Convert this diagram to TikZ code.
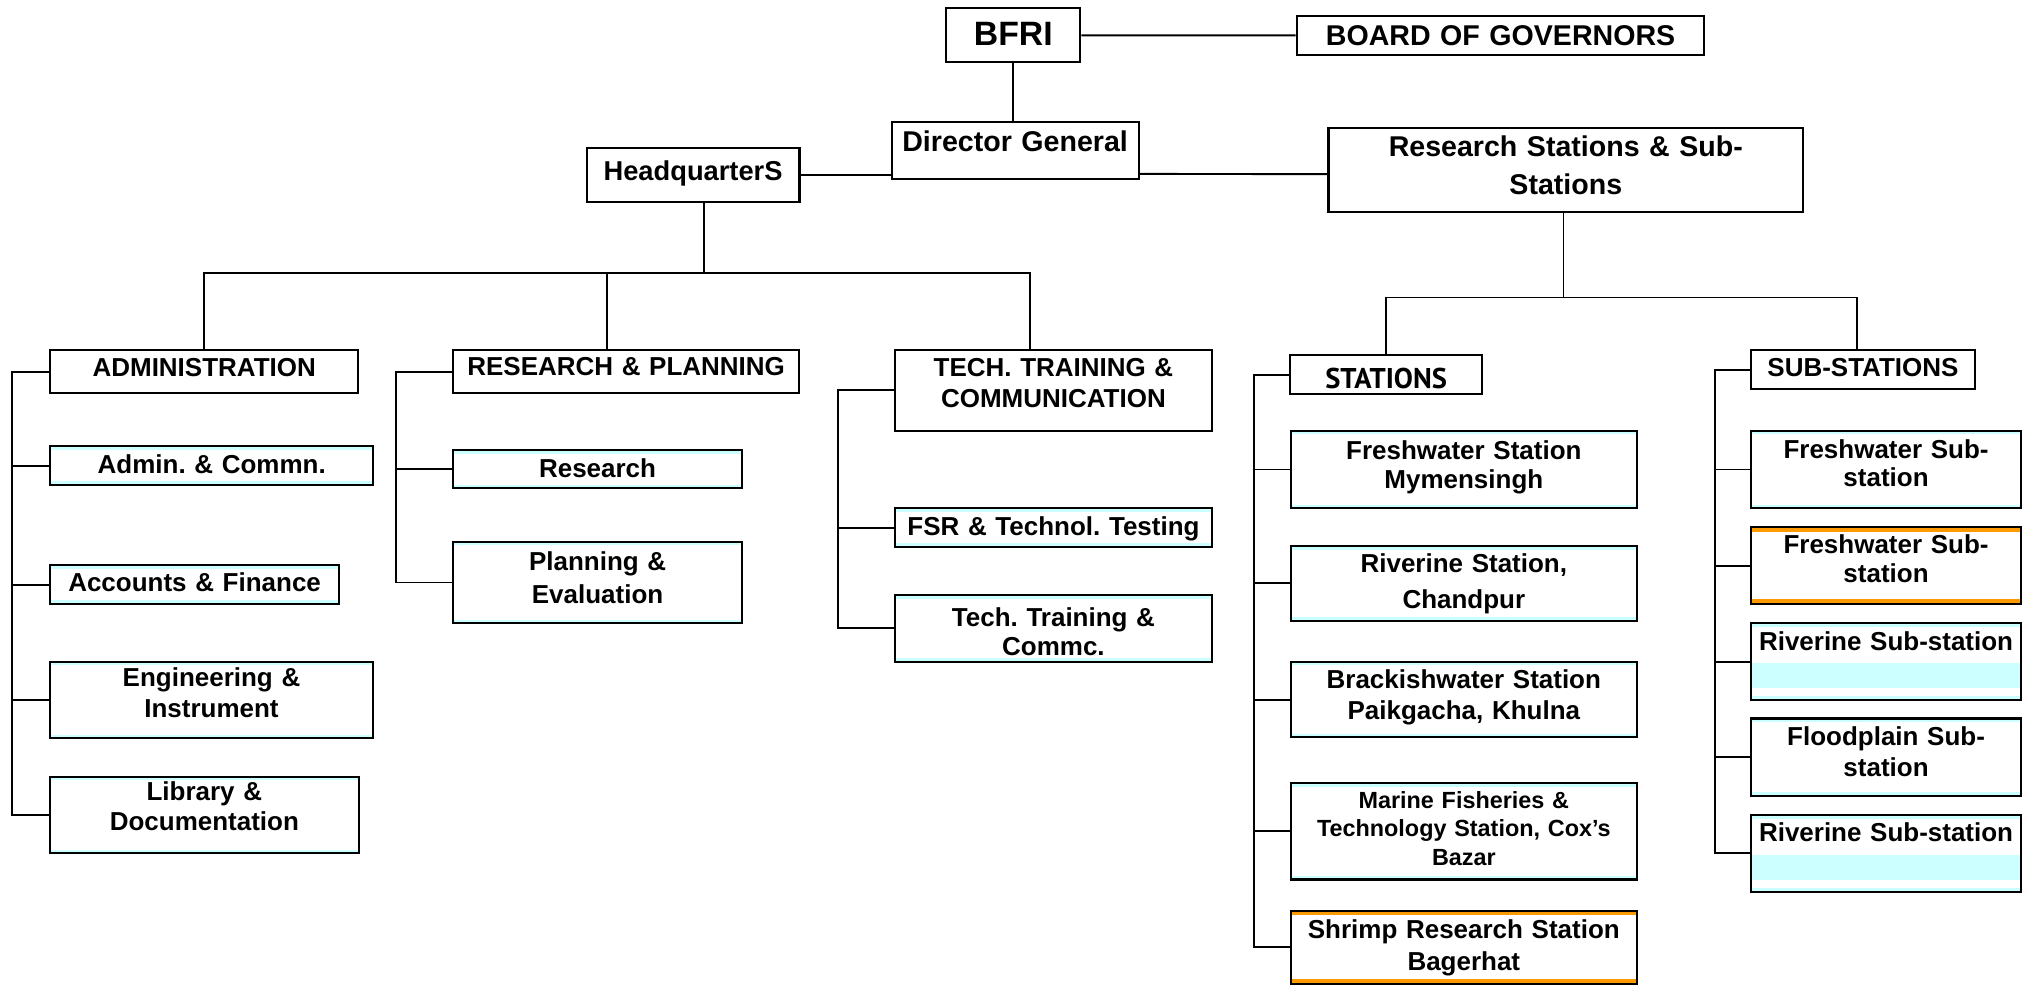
\documentclass[tikz,border=0pt]{standalone}
\usepackage{fontspec}
\setmainfont{Liberation Sans}
\newfontfamily\stfont{PT Sans}
\frenchspacing

\definecolor{lcyan}{RGB}{204,255,255}
\definecolor{borange}{RGB}{255,153,0}
\newcommand{\fs}[2]{\bfseries\fontsize{#1}{#2}\selectfont}

\begin{document}
\begin{tikzpicture}[x=0.5pt, y=-0.5pt,
    box/.style={draw, line width=0.8pt, fill=white, inner sep=0pt, align=center, font=\fs{10}{12}},
    sz/.style 2 args={minimum width=#1, text width=#1, minimum height=#2},
    tdn/.style={text height=#1, text depth=0pt},
    tup/.style={text height=0pt, text depth=#1},
    sub/.style={box, path picture={
        \fill[lcyan] (path picture bounding box.north west) rectangle ([yshift=-1.4pt]path picture bounding box.north east);
        \fill[lcyan] (path picture bounding box.south west) rectangle ([yshift=1.4pt]path picture bounding box.south east);}},
    subo/.style={box, path picture={
        \fill[borange] (path picture bounding box.north west) rectangle ([yshift=-1.8pt]path picture bounding box.north east);
        \fill[borange] (path picture bounding box.south west) rectangle ([yshift=1.8pt]path picture bounding box.south east);}},
    band/.style={box, path picture={
        \fill[lcyan] (path picture bounding box.north west) rectangle ([yshift=-1.4pt]path picture bounding box.north east);
        \fill[lcyan] (path picture bounding box.south west) rectangle ([yshift=1.4pt]path picture bounding box.south east);
        \fill[lcyan] ([yshift=-15.3pt]path picture bounding box.north west) rectangle ([yshift=-24.9pt]path picture bounding box.north east);}},
    conn/.style={line width=0.75pt}]
  \useasboundingbox (0,0) rectangle (1568,759);

  % top
  \node[box, sz={51.65pt}{20.8pt}, tdn=8.2pt, font=\fs{13}{15}] (bfri) at (780,27.2) {BFRI};
  \node[box, sz={156.9pt}{15pt}, tdn=8.1pt, font=\fs{11}{13}] (bog) at (1155.1,27.3) {BOARD OF GOVERNORS};
  \node[box, sz={95pt}{22.2pt}, tdn=0.9pt, font=\fs{11}{13}] (dg) at (781.4,115.9) {Director General};
  \node[box, sz={81.9pt}{20.8pt}, tdn=4.6pt, font=\fs{10.5}{12}] (hq) at (533.5,134.5) {HeadquarterS};
  \node[box, sz={182.7pt}{32.1pt}, tup=10.8pt, font=\fs{11}{14.75}] (rs) at (1205.3,130.9) {Research Stations \& Sub-\\Stations};

  % branches
  \node[box, sz={118.7pt}{16.7pt}, tdn=3.9pt] (adm) at (157.2,286.1) {ADMINISTRATION};
  \node[box, sz={133pt}{16.7pt}, tdn=3.1pt] (rp) at (482,286.1) {RESEARCH \& PLANNING};
  \node[box, sz={121.9pt}{31.05pt}, tup=10.5pt, font=\fs{10}{11.9}] (tt) at (810.9,300.5) {TECH. TRAINING \&\\COMMUNICATION};
  \node[box, sz={74pt}{15pt}, tdn=10.7pt, font=\stfont\bfseries\fontsize{11}{13}\selectfont] (st) at (1067,288.3) {STATIONS};
  \node[box, sz={86.35pt}{15.05pt}, tdn=5.5pt] (sst) at (1434,284.5) {SUB-STATIONS};

  % administration
  \node[sub, sz={124.45pt}{15pt}, tdn=6pt] (ac) at (163,358.4) {Admin. \& Commn.};
  \node[sub, sz={111.25pt}{15pt}, tdn=5.5pt] (af) at (149.8,450) {Accounts \& Finance};
  \node[sub, sz={124.25pt}{29.5pt}, tup=10.3pt] (ei) at (162.8,538.9) {Engineering \&\\Instrument};
  \node[sub, sz={118.75pt}{29.5pt}, tup=11.5pt, font=\fs{10}{11.55}] (ld) at (157.3,627.4) {Library \&\\Documentation};

  % research and planning
  \node[sub, sz={111pt}{14.75pt}, tdn=6.3pt] (re) at (460,361.2) {Research};
  \node[sub, sz={111pt}{31.4pt}, tup=9.6pt, font=\fs{10}{12.85}] (pe) at (460,448.4) {Planning \&\\Evaluation};

  % training
  \node[sub, sz={121.9pt}{14.75pt}, tdn=5.8pt] (fsr) at (810.9,406.1) {FSR \& Technol. Testing};
  \node[sub, sz={121.9pt}{25.7pt}, tup=1.3pt, font=\fs{10}{10.9}] (ttc) at (810.9,483.7) {Tech. Training \&\\Commc.};

  % stations
  \node[sub, sz={133.2pt}{29.9pt}, tup=8pt, font=\fs{10}{11.25}] (fws) at (1126.8,361.4) {Freshwater Station\\Mymensingh};
  \node[sub, sz={133.2pt}{28.75pt}, tup=8.4pt, font=\fs{10}{13.85}] (rvs) at (1126.8,449) {Riverine Station,\\Chandpur};
  \node[sub, sz={133.2pt}{29.1pt}, tup=8.6pt, font=\fs{10}{11.9}] (bws) at (1126.8,538.5) {Brackishwater Station\\Paikgacha, Khulna};
  \node[sub, sz={133.2pt}{37pt}, tup=17.7pt, font=\fs{9}{10.9}] (mft) at (1126.8,640) {Marine Fisheries \&\\Technology Station, Cox’s\\Bazar};
  \node[subo, sz={133.2pt}{28.25pt}, tup=7pt, font=\fs{10}{12.2}] (srs) at (1126.8,729.3) {Shrimp Research Station\\Bagerhat};

  % sub-stations
  \node[sub, sz={104.05pt}{29.9pt}, tup=8.6pt, font=\fs{10}{10.95}] (fss1) at (1451.8,361.4) {Freshwater Sub-\\station};
  \node[subo, sz={104.05pt}{29.5pt}, tup=9.5pt, font=\fs{10}{11.15}] (fss2) at (1451.8,435.5) {Freshwater Sub-\\station};
  \node[band, sz={104.05pt}{29.5pt}, tup=9pt] (rss1) at (1451.8,509.4) {Riverine Sub-station};
  \node[sub, sz={104.05pt}{29.75pt}, tup=9.3pt, font=\fs{10}{12.2}] (fps) at (1451.8,582.8) {Floodplain Sub-\\station};
  \node[band, sz={104.05pt}{29.5pt}, tup=8.9pt] (rss2) at (1451.8,656.9) {Riverine Sub-station};

  % connectors
  \draw[conn] (bfri) -- (bog);
  \draw[conn] (bfri.south) -- (bfri.south |- dg.north);
  \draw[conn] (hq.east) -- (hq.east -| dg.west);
  \draw[conn] ([yshift=2.5pt]dg.south east) -- ([yshift=-1.55pt]rs.west);

  \coordinate (hqb) at (542,210);
  \draw[conn] (hq.south -| hqb) -- (hqb);
  \draw[conn] (adm.north) |- ([xshift=-8.95pt]tt.north |- hqb) -- ([xshift=-8.95pt]tt.north);
  \draw[conn] ([xshift=-7.25pt]rp.north) -- ([xshift=-7.25pt]rp.north |- hqb);

  \coordinate (rsb) at (1203.5,229);
  \draw[conn] (rs.south -| rsb) -- (rsb);
  \draw[conn] (st.north) |- ([xshift=-2.35pt]sst.north |- rsb) -- ([xshift=-2.35pt]sst.north);

  % spines
  \coordinate (sp1) at (9.5,0);
  \coordinate (sp2) at (305,0);
  \coordinate (sp3) at (645,0);
  \coordinate (sp4) at (965,0);
  \coordinate (sp5) at (1320,0);
  \draw[conn] (adm.west) -| (sp1 |- ld.west) -- (ld.west);
  \foreach \n in {ac,af,ei}
    \draw[conn] (\n.west) -- (\n.west -| sp1);
  \draw[conn] (rp.west) -| (sp2 |- pe.west) -- (pe.west);
  \draw[conn] (re.west) -- (re.west -| sp2);
  \draw[conn] (tt.west) -| (sp3 |- ttc.west) -- (ttc.west);
  \draw[conn] (fsr.west) -- (fsr.west -| sp3);
  \draw[conn] (st.west) -| (sp4 |- srs.west) -- (srs.west);
  \foreach \n in {fws,rvs,bws,mft}
    \draw[conn] (\n.west) -- (\n.west -| sp4);
  \draw[conn] (sst.west) -| (sp5 |- rss2.west) -- (rss2.west);
  \foreach \n in {fss1,fss2,rss1,fps}
    \draw[conn] (\n.west) -- (\n.west -| sp5);
\end{tikzpicture}
\end{document}
